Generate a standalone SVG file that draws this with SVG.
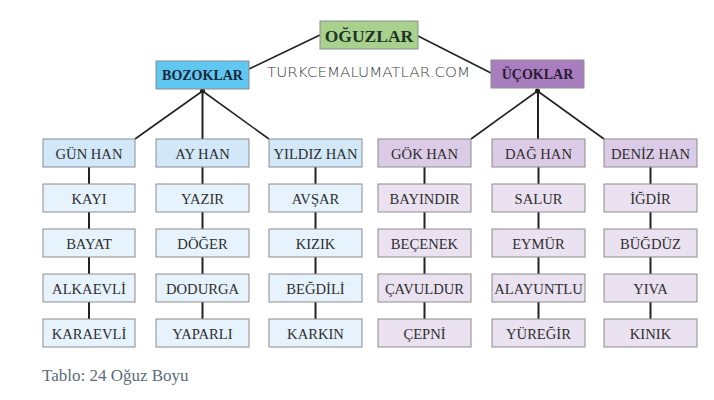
<svg xmlns="http://www.w3.org/2000/svg" width="714" height="400" viewBox="0 0 714 400">
<style>
.box{stroke:#8c8c8c;stroke-width:1}
.bh{fill:#d2e8f8}
.bl{fill:#e6f3fc}
.ph{fill:#dccbe6}
.pl{fill:#eae1f1}
.t{font-family:"Liberation Serif","Times New Roman",serif;font-size:14.6px;fill:#2e2e2e;text-anchor:middle}
.h{font-family:"Liberation Serif","Times New Roman",serif;font-weight:bold;text-anchor:middle}
.ln{stroke:#222;stroke-width:2;fill:none}
.lt{stroke:#222;stroke-width:1.6;fill:none}
</style>
<rect width="714" height="400" fill="#ffffff"/>
<g id="connectors">
<line class="lt" x1="320" y1="35" x2="249" y2="69"/>
<line class="lt" x1="418" y1="36" x2="491" y2="73"/>
<circle cx="202.5" cy="91" r="2.5" fill="#111"/>
<circle cx="537.5" cy="91" r="2.5" fill="#111"/>
<line class="lt" x1="202.5" y1="91" x2="135" y2="139"/>
<line class="ln" x1="202.5" y1="89" x2="202.5" y2="139"/>
<line class="lt" x1="202.5" y1="91" x2="269" y2="139"/>
<line class="lt" x1="537.5" y1="91" x2="471" y2="139"/>
<line class="ln" x1="538" y1="89" x2="538" y2="139"/>
<line class="lt" x1="537.5" y1="91" x2="604" y2="139"/>
<path class="ln" d="M89 167V184M89 212V229M89 257V274M89 302V319"/>
<path class="ln" d="M202.5 167V184M202.5 212V229M202.5 257V274M202.5 302V319"/>
<path class="ln" d="M315.5 167V184M315.5 212V229M315.5 257V274M315.5 302V319"/>
<path class="ln" d="M424.5 167V184M424.5 212V229M424.5 257V274M424.5 302V319"/>
<path class="ln" d="M538.5 167V184M538.5 212V229M538.5 257V274M538.5 302V319"/>
<path class="ln" d="M650.5 167V184M650.5 212V229M650.5 257V274M650.5 302V319"/>
</g>
<g id="oguzlar"><rect class="box" x="320" y="21" width="98" height="28" fill="#a9d18e"/><text class="h" x="369" y="41.5" font-size="17.5" fill="#1f3326">OĞUZLAR</text></g>
<g id="bozoklar"><rect class="box" x="156" y="61" width="93" height="28" fill="#5fc7f0"/><text class="h" x="202.5" y="80" font-size="14" fill="#17283a">BOZOKLAR</text></g>
<g id="ucoklar"><rect class="box" x="491" y="60" width="93" height="28" fill="#a87ebf"/><text class="h" x="537.5" y="79" font-size="14" fill="#2a1a35">ÜÇOKLAR</text></g>
<text x="267" y="77" font-family="DejaVu Sans, sans-serif" font-size="14.5" font-weight="300" fill="#3a3a3a" textLength="203" lengthAdjust="spacingAndGlyphs">TURKCEMALUMATLAR.COM</text>

<g id="gunhan"><rect class="box bh" x="43" y="139" width="92" height="28"/><text class="t" x="89" y="158.5">GÜN HAN</text></g>
<g id="kayi"><rect class="box bl" x="43" y="184" width="92" height="28"/><text class="t" x="89" y="203.5">KAYI</text></g>
<g id="bayat"><rect class="box bl" x="43" y="229" width="92" height="28"/><text class="t" x="89" y="248.5">BAYAT</text></g>
<g id="alkaevli"><rect class="box bl" x="43" y="274" width="92" height="28"/><text class="t" x="89" y="293.5">ALKAEVLİ</text></g>
<g id="karaevli"><rect class="box bl" x="43" y="319" width="92" height="28"/><text class="t" x="89" y="338.5">KARAEVLİ</text></g>

<g id="ayhan"><rect class="box bh" x="156" y="139" width="93" height="28"/><text class="t" x="202.5" y="158.5">AY HAN</text></g>
<g id="yazir"><rect class="box bl" x="156" y="184" width="93" height="28"/><text class="t" x="202.5" y="203.5">YAZIR</text></g>
<g id="doger"><rect class="box bl" x="156" y="229" width="93" height="28"/><text class="t" x="202.5" y="248.5">DÖĞER</text></g>
<g id="dodurga"><rect class="box bl" x="156" y="274" width="93" height="28"/><text class="t" x="202.5" y="293.5">DODURGA</text></g>
<g id="yaparli"><rect class="box bl" x="156" y="319" width="93" height="28"/><text class="t" x="202.5" y="338.5">YAPARLI</text></g>

<g id="yildizhan"><rect class="box bh" x="269" y="139" width="93" height="28"/><text class="t" x="315.5" y="158.5">YILDIZ HAN</text></g>
<g id="avsar"><rect class="box bl" x="269" y="184" width="93" height="28"/><text class="t" x="315.5" y="203.5">AVŞAR</text></g>
<g id="kizik"><rect class="box bl" x="269" y="229" width="93" height="28"/><text class="t" x="315.5" y="248.5">KIZIK</text></g>
<g id="begdili"><rect class="box bl" x="269" y="274" width="93" height="28"/><text class="t" x="315.5" y="293.5">BEĞDİLİ</text></g>
<g id="karkin"><rect class="box bl" x="269" y="319" width="93" height="28"/><text class="t" x="315.5" y="338.5">KARKIN</text></g>

<g id="gokhan"><rect class="box ph" x="378" y="139" width="93" height="28"/><text class="t" x="424.5" y="158.5">GÖK HAN</text></g>
<g id="bayindir"><rect class="box pl" x="378" y="184" width="93" height="28"/><text class="t" x="424.5" y="203.5">BAYINDIR</text></g>
<g id="becenek"><rect class="box pl" x="378" y="229" width="93" height="28"/><text class="t" x="424.5" y="248.5">BEÇENEK</text></g>
<g id="cavuldur"><rect class="box pl" x="378" y="274" width="93" height="28"/><text class="t" x="424.5" y="293.5">ÇAVULDUR</text></g>
<g id="cepni"><rect class="box pl" x="378" y="319" width="93" height="28"/><text class="t" x="424.5" y="338.5">ÇEPNİ</text></g>

<g id="daghan"><rect class="box ph" x="492" y="139" width="93" height="28"/><text class="t" x="538.5" y="158.5">DAĞ HAN</text></g>
<g id="salur"><rect class="box pl" x="492" y="184" width="93" height="28"/><text class="t" x="538.5" y="203.5">SALUR</text></g>
<g id="eymur"><rect class="box pl" x="492" y="229" width="93" height="28"/><text class="t" x="538.5" y="248.5">EYMÜR</text></g>
<g id="alayuntlu"><rect class="box pl" x="492" y="274" width="93" height="28"/><text class="t" x="538.5" y="293.5">ALAYUNTLU</text></g>
<g id="yuregir"><rect class="box pl" x="492" y="319" width="93" height="28"/><text class="t" x="538.5" y="338.5">YÜREĞİR</text></g>

<g id="denizhan"><rect class="box ph" x="604" y="139" width="93" height="28"/><text class="t" x="650.5" y="158.5">DENİZ HAN</text></g>
<g id="igdir"><rect class="box pl" x="604" y="184" width="93" height="28"/><text class="t" x="650.5" y="203.5">İĞDİR</text></g>
<g id="bugduz"><rect class="box pl" x="604" y="229" width="93" height="28"/><text class="t" x="650.5" y="248.5">BÜĞDÜZ</text></g>
<g id="yiva"><rect class="box pl" x="604" y="274" width="93" height="28"/><text class="t" x="650.5" y="293.5">YIVA</text></g>
<g id="kinik"><rect class="box pl" x="604" y="319" width="93" height="28"/><text class="t" x="650.5" y="338.5">KINIK</text></g>

<text x="42" y="380.5" font-family="Liberation Serif, serif" font-size="17" fill="#5b6b7a">Tablo: 24 Oğuz Boyu</text>
</svg>
